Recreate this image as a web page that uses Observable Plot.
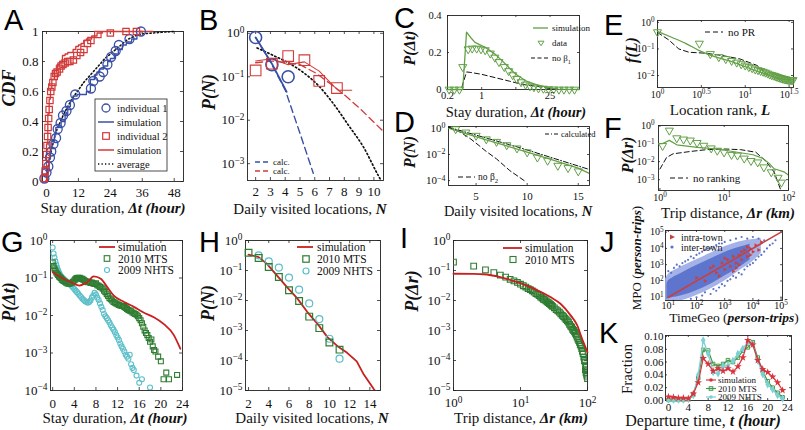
<!DOCTYPE html>
<html><head><meta charset="utf-8">
<script src="https://cdn.jsdelivr.net/npm/d3@7"></script>
<script src="https://cdn.jsdelivr.net/npm/@observablehq/plot@0.6"></script>
<style>
html,body{margin:0;padding:0;background:#fff;}
#fig{position:relative;width:805px;height:430px;overflow:hidden;background:#fff;}
.t{position:absolute;white-space:nowrap;font-family:"Liberation Serif","Times New Roman",serif;line-height:1;color:#111;}
.c{transform:translate(-50%,-50%);}
.r{transform:translate(-50%,-50%) rotate(-90deg);}
.bi{font-weight:bold;font-style:italic;}
.L{position:absolute;font-family:"Liberation Sans",Arial,sans-serif;font-size:29px;line-height:1;color:#000;}
</style></head><body><div id="fig"></div>
<script>
// ---------------- DATA ----------------
// A: CDF of stay durations
const aInd1 = [[-0.8,0.02],[0,0.06],[0.7,0.1],[1.3,0.16],[1.8,0.2],[2.6,0.25],[3.6,0.29],[4.2,0.35],[5.3,0.39],[6.2,0.44],[7.5,0.47],[8.8,0.51],[10.8,0.58],[16.7,0.62],[17.6,0.67],[20,0.7],[21.3,0.73],[22.9,0.78],[24.3,0.83],[26,0.87],[27.2,0.91],[31.2,0.95],[35.5,1]];
const aSim1 = [[-0.5,0],[0.5,0.08],[1,0.15],[1.5,0.22],[2,0.27],[3,0.31],[3.5,0.36],[4.5,0.37],[5.5,0.4],[7,0.45],[8,0.5],[9,0.54],[10,0.57],[11.5,0.58],[15,0.6],[16.5,0.68],[18,0.71],[19,0.73],[20,0.75],[21.5,0.77],[23,0.8],[24,0.82],[25.5,0.85],[27,0.88],[28.5,0.91],[30,0.93],[32,0.95],[34,0.98],[35,1],[36,1]];
const aInd2 = [[-0.8,0.02],[-0.5,0.07],[-0.2,0.12],[0,0.18],[0.2,0.24],[0.4,0.3],[0.6,0.36],[0.8,0.42],[1,0.48],[1.3,0.54],[1.6,0.6],[2,0.63],[2.4,0.66],[2.9,0.7],[3.4,0.72],[4,0.73],[4.9,0.75],[5.5,0.77],[6.2,0.78],[7,0.79],[8,0.8],[8.8,0.8],[10.1,0.81],[11.4,0.84],[12.8,0.86],[14.1,0.88],[15.4,0.92],[16.7,0.94],[19.3,0.98],[24,0.99],[29.9,1],[33.8,1]];
const aSim2 = [[-0.5,0],[0,0.25],[0.5,0.45],[1,0.55],[1.5,0.62],[2,0.68],[3,0.74],[4,0.78],[5,0.8],[6,0.84],[7,0.85],[8,0.86],[10,0.88],[11,0.9],[12,0.91],[13,0.92],[14,0.94],[15,0.95],[17,0.97],[19,0.99],[21,1],[40,1]];
const aAvg = [[0,0],[0.5,0.08],[1,0.14],[2,0.22],[3,0.29],[4,0.35],[5,0.39],[6,0.43],[8,0.5],[10,0.56],[12,0.61],[14,0.66],[16,0.7],[18,0.74],[20,0.78],[22,0.82],[24,0.85],[26,0.88],[28,0.91],[30,0.94],[32,0.96],[35,0.98],[40,0.99],[48,1]];
const aXTicks = [0,12,24,36,48], aYTicks = [0,0.2,0.4,0.6,0.8,1];

// B: daily visited locations, two individuals
const bInd1 = [[2,0.8],[3.1,0.19],[4.2,0.1]];
const bSim1 = [[2,0.8],[3.1,0.2],[4.1,0.045]];
const bCalc1 = [[2,0.8],[3,0.22],[4,0.05],[5,0.005],[5.9,0.0006]];
const bInd2 = [[2,0.14],[3.1,0.2],[4.2,0.3],[5.3,0.24],[6.3,0.08],[7.5,0.055]];
const bSim2 = [[2,0.23],[3.1,0.26],[4.2,0.19],[5.3,0.22],[6.3,0.135],[7.3,0.06],[7.6,0.049],[8.5,0.049]];
const bCalc2 = [[2,0.21],[3.1,0.23],[4.1,0.21],[5,0.19],[6.1,0.12],[7.1,0.067],[8.1,0.036],[9.1,0.018],[10,0.009],[10.6,0.0057]];
const bAvg = [[2.1,0.46],[3.1,0.32],[4.2,0.21],[5.3,0.12],[6.3,0.06],[7.3,0.023],[8.3,0.0075],[9.3,0.0024],[10.3,0.00053],[10.6,0.00035]];
const bXTicks = [2,3,4,5,6,7,8,9,10], bYTicks = [1,0.1,0.01,0.001];

// C: stay duration distribution (inset)
const cSim = [[0.2,0],[0.41,0],[0.49,0.31],[0.6,0.28],[0.73,0.255],[1.2,0.227],[1.9,0.19],[3.1,0.136],[5,0.082],[8.2,0.045],[13,0.027],[21,0.013],[35,0.002],[100,0]];
const cData = [[0.216,0],[0.276,0],[0.35,0],[0.41,0.122],[0.53,0.218],[0.64,0.222],[0.79,0.222],[0.97,0.218],[1.18,0.213],[1.5,0.195],[1.86,0.173],[2.26,0.149],[2.9,0.122],[3.56,0.1],[4.3,0.078],[5.2,0.058],[6.4,0.04],[7.9,0.027],[9.7,0.018],[11.7,0.013],[14.5,0.007],[18.3,0.005],[23.3,0.002],[29.6,0.001],[38,0],[48,0],[62,0],[79,0]];
const cNoBeta = [[0.2,0],[0.38,0],[0.49,0.095],[0.6,0.092],[1,0.082],[1.9,0.064],[3.7,0.045],[7,0.027],[13,0.018],[25,0.005],[50,0],[100,0]];
const cXTicks = [0.2,1,5,25], cYTicks = [0,0.2,0.4];

// D: daily visited locations (population)
const dData = [[3,0.89],[4,0.5],[5,0.28],[6,0.15],[7,0.096],[8,0.053],[9,0.03],[10,0.015],[11,0.006],[12,0.0034],[13,0.0014],[14,0.00093],[15,0.00052]];
const dCalc = [[2.3,1.25],[9.2,0.035],[16.1,0.0007]];
const dSim = [[2.3,1.05],[4,0.4],[6,0.13],[8,0.045],[10,0.015],[12,0.005],[14,0.0016],[15,0.0009],[16.1,0.00035]];
const dNoBeta = [[2.3,1.2],[3.5,0.5],[4.5,0.15],[5.3,0.048],[6,0.017],[7,0.0046],[8.3,0.00058],[9.7,0.0001]];
const dXTicks = [5,10,15], dYTicks = [1,0.01,0.0001];

// E: location rank
const eSim = [[1,0.46],[1.47,0.27],[2.09,0.163],[2.99,0.087],[4.66,0.049],[7.28,0.032],[11.4,0.018],[17.7,0.011],[25.3,0.0075],[34.4,0.0069]];
const eNoPR = [[1,0.42],[1.34,0.22],[1.75,0.1],[2.29,0.075],[3.57,0.069],[5.57,0.056],[8.7,0.042],[13.6,0.024],[16.2,0.015]];
const eData = [[1,0.43],[3,0.16],[4,0.065],[5,0.05],[6,0.042],[7,0.036],[8,0.031],[9,0.027],[10,0.024],[11,0.021],[12,0.019],[13,0.017],[14,0.016],[15,0.015],[16,0.014],[17,0.013],[18,0.012],[19,0.011],[20,0.0105],[21,0.01],[22,0.0095],[23,0.009],[24,0.0086],[25,0.0082],[26,0.0079],[27,0.0076],[28,0.0074],[29,0.0072],[30,0.007],[31,0.0069],[32,0.0068],[33,0.0068],[34,0.0068],[35,0.0068]];
const eXTicks = [1,3.1623,10,31.623], eYTicks = [1,0.1,0.01];

// F: trip distance (inset)
const fData = [[1.1,0.075],[1.4,0.53],[1.83,0.2],[2.33,0.17],[2.97,0.15],[3.78,0.11],[4.81,0.077],[6.27,0.055],[7.8,0.041],[9.95,0.033],[13,0.024],[16.1,0.022],[20.5,0.015],[26.1,0.011],[33.2,0.0092],[41.4,0.0049],[54,0.0026],[68.8,0.0013],[77.6,0.0007]];
const fSim = [[0.96,0.1],[1.1,0.1],[1.4,0.15],[1.83,0.085],[3.8,0.062],[7.8,0.05],[16,0.033],[28,0.024],[40,0.015],[50,0.008],[60,0.004],[87,0.0026],[100,0.0018]];
const fNoRank = [[1,0.0039],[1.27,0.017],[1.6,0.027],[2.9,0.036],[5.3,0.046],[10,0.05],[18,0.046],[31,0.033],[44,0.011],[60,0.0026],[78,0.0002]];
const fXTicks = [1,10,100], fYTicks = [1,0.1,0.01,0.001];

// G: stay duration, surveys
const gSim = [[0,0.144],[1.5,0.105],[3.3,0.078],[4.9,0.063],[6.4,0.078],[7.6,0.11],[8.9,0.095],[10.1,0.057],[11.3,0.034],[13.2,0.023],[15,0.017],[16.8,0.012],[18.7,0.009],[20.5,0.006],[22.4,0.003],[23.6,0.0013]];
const gMts = [[0,0.26],[0.17,0.21],[0.33,0.18],[0.5,0.16],[0.67,0.14],[0.83,0.13],[1,0.12],[1.17,0.11],[1.33,0.105],[1.5,0.1],[1.67,0.092],[1.83,0.088],[2,0.083],[2.25,0.079],[2.5,0.075],[2.75,0.072],[3,0.07],[3.25,0.071],[3.5,0.074],[3.75,0.079],[4,0.086],[4.17,0.092],[4.33,0.097],[4.5,0.1],[4.67,0.102],[4.83,0.098],[5,0.101],[5.17,0.097],[5.33,0.094],[5.5,0.096],[5.67,0.09],[5.83,0.087],[6,0.083],[6.25,0.08],[6.5,0.077],[6.75,0.079],[7,0.074],[7.25,0.076],[7.5,0.071],[7.75,0.069],[8,0.072],[8.25,0.064],[8.5,0.062],[8.75,0.058],[9,0.056],[9.25,0.052],[9.5,0.046],[9.75,0.042],[10,0.037],[10.25,0.033],[10.5,0.029],[10.75,0.027],[11,0.025],[11.25,0.023],[11.5,0.022],[11.75,0.021],[12,0.02],[12.25,0.019],[12.5,0.0185],[12.75,0.018],[13,0.018],[13.25,0.017],[13.5,0.016],[13.75,0.015],[14,0.014],[14.25,0.0135],[14.5,0.013],[14.75,0.012],[15,0.0115],[15.25,0.011],[15.5,0.0105],[15.75,0.0095],[16,0.0085],[16.25,0.0075],[16.5,0.0062],[16.75,0.005],[17,0.004],[17.25,0.0034],[17.5,0.003],[17.75,0.0025],[18,0.002],[18.25,0.0023],[18.5,0.0015],[18.75,0.0012],[19,0.0011],[19.5,0.0008],[20,0.0006],[20.5,0.0002],[21,0.0003],[21.5,0.0002],[23,0.00026]];
const gNhts = [[0,0.65],[0.17,0.45],[0.33,0.35],[0.5,0.28],[0.67,0.23],[0.83,0.19],[1,0.16],[1.17,0.14],[1.33,0.125],[1.5,0.115],[1.67,0.105],[1.83,0.1],[2,0.095],[2.25,0.088],[2.5,0.082],[2.75,0.077],[3,0.072],[3.25,0.066],[3.5,0.061],[3.75,0.056],[4,0.051],[4.25,0.046],[4.5,0.042],[4.75,0.038],[5,0.034],[5.25,0.031],[5.5,0.028],[5.75,0.026],[6,0.024],[6.25,0.023],[6.5,0.022],[6.75,0.023],[7,0.025],[7.25,0.03],[7.5,0.034],[7.75,0.04],[8,0.036],[8.25,0.03],[8.5,0.026],[8.75,0.021],[9,0.017],[9.25,0.014],[9.5,0.011],[9.75,0.0095],[10,0.0085],[10.25,0.0075],[10.5,0.0065],[10.75,0.0055],[11,0.0048],[11.25,0.0042],[11.5,0.0036],[11.75,0.003],[12,0.0026],[12.25,0.0022],[12.5,0.0018],[12.75,0.0015],[13,0.0013],[13.25,0.0011],[13.5,0.0009],[13.75,0.0008],[14,0.0007],[14.25,0.0009],[14.5,0.0005],[14.75,0.0004],[15,0.00035],[15.5,0.00025],[16,0.00016],[16.5,0.0002],[18,0.00012]];
const gXTicks = [0,4,8,12,16,20,24], gYTicks = [1,0.1,0.01,0.001,0.0001];

// H: daily visited locations, surveys
const hSim = [[2,0.34],[3,0.28],[3.8,0.17],[4.8,0.069],[5.8,0.028],[6.8,0.012],[7.8,0.0042],[8.8,0.0017],[9.8,0.0006],[10.8,0.0003],[11.75,0.00018],[12.7,0.000093],[13.4,0.000034],[14.4,0.000011],[14.7,0.000008]];
const hMts = [[2,0.39],[3,0.26],[4,0.13],[5,0.061],[6,0.022],[7,0.0096],[8,0.0029],[9,0.0012],[10,0.0004],[11,0.00023]];
const hNhts = [[3,0.32],[4,0.2],[5,0.125],[6,0.058],[7,0.023],[8,0.008],[9,0.0024],[10,0.00053],[11,0.000115]];
const hXTicks = [2,4,6,8,10,12,14], hYTicks = [1,0.1,0.01,0.001,0.0001,0.00001];

// I: trip distance, surveys
const iSim = [[1,0.078],[2,0.077],[2.8,0.075],[5,0.06],[8.9,0.041],[15.8,0.025],[28,0.013],[39.5,0.0078],[56,0.0032],[70,0.0015],[83,0.00053],[100,0.00019]];
const iMts = [[1,0.19],[2,0.14],[3,0.105],[4,0.085],[5,0.07],[6,0.06],[7,0.051],[8,0.045],[9,0.04],[10,0.035],[11,0.031],[12,0.028],[13,0.025],[14,0.023],[15,0.021],[16,0.019],[17,0.017],[18,0.016],[19,0.0145],[20,0.013],[21,0.012],[22,0.011],[23,0.0105],[24,0.0097],[25,0.009],[26,0.0085],[27,0.0079],[28,0.0074],[29,0.0069],[30,0.0064],[32,0.0057],[34,0.005],[36,0.0045],[38,0.0041],[40,0.0036],[42,0.0032],[44,0.0029],[46,0.0026],[48,0.0023],[50,0.0021],[52,0.0019],[54,0.0016],[56,0.0014],[58,0.0013],[60,0.0011],[62,0.001],[64,0.0009],[66,0.0008],[68,0.0007],[70,0.0006],[72,0.00052],[74,0.00046],[76,0.0004],[78,0.00034],[80,0.0003],[82,0.00025],[84,0.0002],[86,0.00017],[88,0.00013],[90,0.0001],[92,0.00009],[93,0.00005],[94,0.00007],[95,0.00004],[96,0.00006],[97,0.000035],[98,0.00003],[99,0.000045],[100,0.000025]];
const iXTicks = [1,10,100], iYTicks = [1,0.1,0.01,0.001,0.0001,0.00001];

// J: MPO vs TimeGeo flows (log10 values)
const jOuterX = [0.9,1.0,1.5,2.0,2.5,3.0,3.5,4.0,4.3];
const jOuterLo = [0.8,0.8,0.8,1.1,1.5,2.0,2.6,3.2,3.7];
const jOuterHi = [2.1,2.4,2.9,3.3,3.7,4.1,4.4,4.55,4.6];
const jInnerX = [0.95,1.0,1.5,2.0,2.5,3.0,3.5,3.9];
const jInnerLo = [0.85,0.9,1.1,1.4,1.8,2.3,2.8,3.3];
const jInnerHi = [1.8,2.0,2.5,2.95,3.35,3.75,4.05,4.25];
const jInter = [[1.0,2.6],[1.1,2.5],[1.2,2.8],[1.3,3.0],[1.4,2.9],[1.5,3.1],[1.6,3.2],[1.7,3.3],[1.8,3.5],[1.9,3.4],[2.0,3.6],[2.1,3.7],[2.2,3.8],[2.3,3.9],[2.4,4.0],[2.5,4.0],[2.6,4.1],[2.7,4.2],[2.8,4.3],[2.9,4.3],[3.0,4.4],[3.2,4.5],[3.4,4.6],[3.6,4.7],[3.8,4.6],[4.0,4.7],[4.2,4.6],[4.4,4.5],[1.8,0.9],[2.0,1.0],[2.2,1.1],[2.3,1.3],[2.5,1.2],[2.6,1.5],[2.7,1.4],[2.8,1.6],[2.9,1.8],[3.0,1.7],[3.1,2.0],[3.2,2.1],[3.3,2.3],[3.4,2.2],[3.5,2.5],[3.6,2.4],[3.7,2.7],[3.8,2.9],[3.9,3.0],[4.0,3.1],[4.1,3.3],[4.2,3.5],[4.3,3.6],[4.4,3.8],[4.5,4.0],[4.6,4.2],[4.7,4.3],[4.8,4.5]];
const jIntra = [[2.0,2.2],[2.3,2.0],[2.5,2.8],[2.7,2.5],[2.9,3.1],[3.0,2.7],[3.1,3.3],[3.2,2.9],[3.3,3.5],[3.4,3.1],[3.5,3.6],[3.6,3.3],[3.7,3.9],[3.8,3.5],[3.9,4.0],[4.0,3.8],[4.1,4.2],[4.2,3.9],[4.3,4.4],[3.3,2.6],[3.5,3.0],[3.6,3.8],[2.8,2.3],[3.0,3.4],[3.8,4.1],[3.4,2.8],[2.6,2.9],[3.9,3.6]];
const jDiag = [[1,1],[5,5]];
const jTicks = [10,100,1000,10000,100000];

// K: departure time
const kHours = [0,1,2,3,4,5,6,7,8,9,10,11,12,13,14,15,16,17,18,19,20,21,22,23];
const kSim = [0.006,0.005,0.004,0.004,0.003,0.0105,0.028,0.066,0.057,0.046,0.05,0.046,0.05,0.045,0.053,0.067,0.094,0.087,0.063,0.049,0.044,0.037,0.028,0.016];
const kMts = [0.001,0.001,0.001,0.001,0.002,0.01,0.035,0.079,0.078,0.057,0.054,0.057,0.063,0.06,0.067,0.078,0.083,0.091,0.067,0.046,0.03,0.02,0.012,0.005];
const kNhts = [0.001,0.001,0.001,0.001,0.002,0.008,0.04,0.094,0.073,0.044,0.042,0.054,0.054,0.062,0.073,0.081,0.091,0.088,0.062,0.041,0.025,0.017,0.008,0.003];
const kXTicks = [0,4,8,12,16,20,24], kYTicks = [0,0.02,0.04,0.06,0.08,0.1];

// ---------------- STYLE ----------------
const BLUE="#3a4fa6", RED="#d23a3a", GRN="#62a046", DRED="#c8201f", MTS="#2e7d32", NHTS="#5cbfc9", JBL="#5b72cc", JRED="#c84040", KRED="#d9343c", KGRN="#46994a", KCYN="#7dd0d6";
const SERIF='"Liberation Serif","Times New Roman",serif';
const NS="http://www.w3.org/2000/svg";
const X=d=>d[0], Y=d=>d[1];
const pw=d=>"10^"+String(+Math.log10(d).toFixed(1)).replace("-","−");
const fig=document.getElementById("fig");

function supers(svg){
  svg.querySelectorAll("text").forEach(t=>{
    const m=/^10\^(.+)$/.exec(t.textContent); if(!m) return;
    t.textContent="10";
    const s=document.createElementNS(NS,"tspan");
    s.setAttribute("dy","-0.45em"); s.setAttribute("font-size","0.72em"); s.textContent=m[1];
    t.appendChild(s);
  });
}
function place(fr,m,fs,opts){
  const [L,T,R,B]=fr;
  const svg=Plot.plot(Object.assign({
    width:(R-L)+m[0]+m[1], height:(B-T)+m[2]+m[3],
    marginLeft:m[0], marginRight:m[1], marginTop:m[2], marginBottom:m[3],
    style:{fontFamily:SERIF,fontSize:fs+"px",background:"transparent",overflow:"visible",color:"#111"}
  },opts));
  svg.style.position="absolute"; svg.style.left=(L-m[0])+"px"; svg.style.top=(T-m[2])+"px";
  supers(svg); fig.appendChild(svg); return svg;
}
function box(xt,yt,fr,len){
  const w=fr[2]-fr[0], h=fr[3]-fr[1], s={stroke:"#222",strokeWidth:0.8};
  return [
    Plot.tickX(xt,{x:d=>d,insetTop:h-len,...s}),
    Plot.tickX(xt,{x:d=>d,insetBottom:h-len,...s}),
    Plot.tickY(yt,{y:d=>d,insetRight:w-len,...s}),
    Plot.tickY(yt,{y:d=>d,insetLeft:w-len,...s}),
    Plot.frame({stroke:"#222",strokeWidth:0.9})
  ];
}
function axes(xt,yt,xf,yf,px,py){
  return [
    Plot.axisX({ticks:xt,tickFormat:xf,tickSize:0,tickPadding:px,label:null}),
    Plot.axisY({ticks:yt,tickFormat:yf,tickSize:0,tickPadding:py,label:null})
  ];
}
function title(html,cx,cy,fs,rot){
  const d=document.createElement("div");
  d.className="t "+(rot?"r":"c"); d.style.left=cx+"px"; d.style.top=cy+"px"; d.style.fontSize=fs+"px";
  d.innerHTML=html; fig.appendChild(d);
}
function letter(s,x,y){const d=document.createElement("div");d.className="L";d.style.left=x+"px";d.style.top=y+"px";d.textContent=s;fig.appendChild(d);}

// ---------------- PANELS ----------------
// A
const frA=[42,31,183,181];
place(frA,[32,6,6,22],13,{x:{domain:[-1.5,51.5]},y:{domain:[0,1]},marks:[
  ...box(aXTicks,aYTicks,frA,3),
  ...axes(aXTicks,aYTicks,d=>String(d),d=>d===0?"0":d===1?"1":d.toFixed(1),6,4),
  Plot.line(aAvg,{x:X,y:Y,stroke:"#111",strokeWidth:1.6,strokeDasharray:"1.3,2.4",curve:"monotone-x"}),
  Plot.line(aSim1,{x:X,y:Y,curve:"step-after",stroke:BLUE,strokeWidth:1.3}),
  Plot.line(aSim2,{x:X,y:Y,curve:"step-after",stroke:RED,strokeWidth:1.3}),
  Plot.dot(aInd1,{x:X,y:Y,r:4.5,stroke:BLUE,strokeWidth:1.3}),
  Plot.dot(aInd2,{x:X,y:Y,symbol:"square",r:3.6,stroke:RED,strokeWidth:1.2})
]});
// B
const frB=[247,31,383,180];
place(frB,[36,4,8,22],13,{x:{domain:[1.45,10.65]},y:{type:"log",domain:[4.1e-4,1.1]},marks:[
  ...box(bXTicks,bYTicks,frB,3),
  ...axes(bXTicks,bYTicks,d=>String(d),pw,6,3),
  Plot.line(bAvg,{x:X,y:Y,stroke:"#111",strokeWidth:1.7,strokeDasharray:"1.3,2.6",curve:"monotone-x",clip:true}),
  Plot.line(bCalc2,{x:X,y:Y,stroke:RED,strokeWidth:1.3,strokeDasharray:"7,4",clip:true}),
  Plot.line(bSim2,{x:X,y:Y,stroke:RED,strokeWidth:1.1,clip:true}),
  Plot.line(bCalc1,{x:X,y:Y,stroke:BLUE,strokeWidth:1.4,strokeDasharray:"7,4",clip:true}),
  Plot.line(bSim1,{x:X,y:Y,stroke:BLUE,strokeWidth:1.8,clip:true}),
  Plot.dot(bInd1,{x:X,y:Y,r:6,stroke:BLUE,strokeWidth:1.6}),
  Plot.dot(bInd2,{x:X,y:Y,symbol:"square",r:6,stroke:RED,strokeWidth:1.1})
]});
// C
const frC=[447,15,579,89];
place(frC,[30,4,4,14],10.5,{x:{type:"log",domain:[0.2,100]},y:{domain:[0,0.4]},marks:[
  ...box(cXTicks,cYTicks,frC,2),
  ...axes(cXTicks,cYTicks,d=>String(d),d=>d===0?"0":String(d),2,6),
  Plot.line(cNoBeta,{x:X,y:Y,stroke:"#111",strokeWidth:1,strokeDasharray:"5,3"}),
  Plot.line(cSim,{x:X,y:Y,stroke:GRN,strokeWidth:1.3}),
  Plot.dot(cData,{x:X,y:Y,symbol:"triangle",rotate:180,r:3,stroke:GRN,strokeWidth:1})
]});
// D
const frD=[448,126,589,185];
place(frD,[30,4,4,22],11,{x:{domain:[2.3,16.1]},y:{type:"log",domain:[Math.pow(10,-4.38),Math.pow(10,0.15)]},marks:[
  ...box(dXTicks,dYTicks,frD,2),
  ...axes(dXTicks,dYTicks,d=>String(d),pw,7,3),
  Plot.line(dNoBeta,{x:X,y:Y,stroke:"#111",strokeWidth:1,strokeDasharray:"5,3",clip:true}),
  Plot.line(dSim,{x:X,y:Y,stroke:GRN,strokeWidth:1.3,clip:true}),
  Plot.line(dCalc,{x:X,y:Y,stroke:"#111",strokeWidth:1,strokeDasharray:"5,2,1,2",clip:true}),
  Plot.dot(dData,{x:X,y:Y,symbol:"triangle",rotate:180,r:3,stroke:GRN,strokeWidth:1})
]});
// E
const frE=[657,20,793,87];
place(frE,[34,4,4,16],10,{x:{type:"log",domain:[1,Math.pow(10,1.55)]},y:{type:"log",domain:[Math.pow(10,-2.45),Math.pow(10,0.07)]},marks:[
  ...box(eXTicks,eYTicks,frE,2),
  ...axes(eXTicks,eYTicks,pw,pw,3,3),
  Plot.line(eNoPR,{x:X,y:Y,stroke:"#111",strokeWidth:1,strokeDasharray:"5,3"}),
  Plot.line(eSim,{x:X,y:Y,stroke:GRN,strokeWidth:1.3,curve:"monotone-x"}),
  Plot.dot(eData,{x:X,y:Y,symbol:"triangle",rotate:180,r:3,stroke:GRN,strokeWidth:1})
]});
// F
const frF=[658,125,788,190];
place(frF,[34,4,4,16],10,{x:{type:"log",domain:[0.95,100]},y:{type:"log",domain:[Math.pow(10,-3.6),1]},marks:[
  ...box(fXTicks,fYTicks,frF,2),
  ...axes(fXTicks,fYTicks,pw,pw,3,4),
  Plot.line(fNoRank,{x:X,y:Y,stroke:"#111",strokeWidth:1,strokeDasharray:"5,3",clip:true}),
  Plot.line(fSim,{x:X,y:Y,stroke:GRN,strokeWidth:1.2,clip:true}),
  Plot.dot(fData,{x:X,y:Y,symbol:"triangle",rotate:180,r:3,stroke:GRN,strokeWidth:1,clip:true})
]});
// G
const frG=[50,240,182,390];
place(frG,[38,4,6,22],13,{x:{domain:[-0.4,24]},y:{type:"log",domain:[1e-4,1]},marks:[
  ...box(gXTicks,gYTicks,frG,3),
  ...axes(gXTicks,gYTicks,d=>String(d),pw,8,3),
  Plot.dot(gNhts,{x:X,y:Y,r:2.5,stroke:NHTS,strokeWidth:1.1,clip:true}),
  Plot.dot(gMts,{x:X,y:Y,symbol:"square",r:2.8,stroke:MTS,strokeWidth:1.1,clip:true}),
  Plot.line(gSim,{x:X,y:Y,stroke:DRED,strokeWidth:1.8,curve:"monotone-x"})
]});
// H
const frH=[245,240,380,390];
place(frH,[38,4,6,22],13,{x:{domain:[1.7,15.05]},y:{type:"log",domain:[1e-5,1]},marks:[
  ...box(hXTicks,hYTicks,frH,3),
  ...axes(hXTicks,hYTicks,d=>String(d),pw,8,3),
  Plot.line(hSim,{x:X,y:Y,stroke:DRED,strokeWidth:1.8,clip:true}),
  Plot.dot(hNhts,{x:X,y:Y,r:3.5,stroke:NHTS,strokeWidth:1.2}),
  Plot.dot(hMts,{x:X,y:Y,symbol:"square",r:3.8,stroke:MTS,strokeWidth:1.2})
]});
// I
const frI=[453,240,587,390];
place(frI,[38,6,6,24],13,{x:{type:"log",domain:[1,100]},y:{type:"log",domain:[1e-5,1]},marks:[
  ...box(iXTicks,iYTicks,frI,3),
  ...axes(iXTicks,iYTicks,pw,pw,7,3),
  Plot.dot(iMts,{x:X,y:Y,symbol:"square",r:3.2,stroke:MTS,strokeWidth:1.1,clip:true}),
  Plot.line(iSim,{x:X,y:Y,stroke:DRED,strokeWidth:1.8,curve:"monotone-x"})
]});
// J
const frJ=[665,230,782,300];
place(frJ,[26,6,4,14],10,{x:{type:"log",domain:[Math.pow(10,0.9),Math.pow(10,5.05)]},y:{type:"log",domain:[Math.pow(10,0.8),Math.pow(10,5.1)]},marks:[
  ...box(jTicks,jTicks,frJ,2),
  ...axes(jTicks,jTicks,pw,pw,1,2),
  Plot.areaY(jOuterX,{x:d=>10**d,y1:(d,i)=>10**jOuterLo[i],y2:(d,i)=>10**jOuterHi[i],fill:"#9aaae6",fillOpacity:0.9,curve:"catmull-rom",clip:true}),
  Plot.areaY(jInnerX,{x:d=>10**d,y1:(d,i)=>10**jInnerLo[i],y2:(d,i)=>10**jInnerHi[i],fill:JBL,fillOpacity:0.95,curve:"catmull-rom",clip:true}),
  Plot.dot(jInter,{x:d=>10**d[0],y:d=>10**d[1],r:1.1,fill:JBL,clip:true}),
  Plot.dot(jIntra,{x:d=>10**d[0],y:d=>10**d[1],symbol:"triangle",rotate:90,r:1.5,fill:JRED,clip:true}),
  Plot.line(jDiag,{x:d=>10**d[0],y:d=>10**d[1],stroke:JRED,strokeWidth:1.6,clip:true})
]});
// K
const frK=[665,335,791,400];
place(frK,[34,4,4,18],11,{x:{domain:[-0.6,24.8]},y:{domain:[0,0.1015]},marks:[
  ...box(kXTicks,kYTicks,frK,2),
  ...axes(kXTicks,kYTicks,d=>String(d),d3.format(".2f"),3,2),
  Plot.line(kHours,{x:d=>d,y:(d,i)=>kMts[i],stroke:KGRN,strokeWidth:1.2}),
  Plot.dot(kHours,{x:d=>d,y:(d,i)=>kMts[i],symbol:"square",r:2,stroke:KGRN,strokeWidth:1}),
  Plot.line(kHours,{x:d=>d,y:(d,i)=>kNhts[i],stroke:KCYN,strokeWidth:1.3}),
  Plot.dot(kHours,{x:d=>d,y:(d,i)=>kNhts[i],symbol:"diamond",r:2.4,fill:KCYN}),
  Plot.line(kHours,{x:d=>d,y:(d,i)=>kSim[i],stroke:KRED,strokeWidth:1.2}),
  Plot.dot(kHours,{x:d=>d,y:(d,i)=>kSim[i],symbol:"star",r:2.4,fill:KRED})
]});

// ---------------- TITLES ----------------
title('Stay duration, <span class="bi">Δt (hour)</span>',113,208,15);
title('<span class="bi">CDF</span>',9,88,18,true);
title('Daily visited locations, <span class="bi">N</span>',310,208.5,15);
title('<span class="bi">P(N)</span>',209,92,18,true);
title('<span class="bi">P(Δt)</span>',410,48,16,true);
title('Stay duration, <span class="bi">Δt (hour)</span>',516,111.5,14.5);
title('<span class="bi">P(N)</span>',410,152,16,true);
title('Daily visited locations, <span class="bi">N</span>',518,211,14.5);
title('<span class="bi">f(L)</span>',632,50,16,true);
title('Location rank, <span class="bi">L</span>',720,110,15);
title('<span class="bi">P(Δr)</span>',628,155,16,true);
title('Trip distance, <span class="bi">Δr (km)</span>',728,213,15);
title('<span class="bi">P(Δt)</span>',9,302,18,true);
title('Stay duration, <span class="bi">Δt (hour)</span>',115,418,15);
title('<span class="bi">P(N)</span>',208,303,18,true);
title('Daily visited locations, <span class="bi">N</span>',312,418,15);
title('<span class="bi">P(Δr)</span>',412,291,18,true);
title('Trip distance, <span class="bi">Δr (km)</span>',521,418,15);
title('MPO (<span class="bi">person-trips</span>)',636,258,13,true);
title('TimeGeo (<span class="bi">person-trips</span>)',734,318,13.5);
title('Fraction',627,369,15,true);
title('Departure time, <span class="bi">t (hour)</span>',703,421,16);

letter("A",4,6); letter("B",199,6); letter("C",394,4); letter("D",394,108);
letter("E",604,11); letter("F",604,114); letter("G",1,228); letter("H",199,228);
letter("I",400,224); letter("J",600,228); letter("K",599,319);

// ---------------- LEGENDS ----------------
const ov=document.createElementNS(NS,"svg");
ov.setAttribute("width","805"); ov.setAttribute("height","430");
ov.style.cssText="position:absolute;left:0;top:0;overflow:visible";
fig.appendChild(ov);
function E(tag,a,p){const e=document.createElementNS(NS,tag);for(const k in a) if(a[k]!=null) e.setAttribute(k,a[k]);(p||ov).appendChild(e);return e;}
function LT(x,y,s,fs,sub){const t=E("text",{x,y,"font-size":fs,"font-family":SERIF,"dominant-baseline":"central",fill:"#111"});t.textContent=s;if(sub){const u=E("tspan",{"baseline-shift":"sub","font-size":fs*0.7},t);u.textContent=sub;}return t;}
function LL(x1,x2,y,c,w,dash){E("line",{x1,x2,y1:y,y2:y,stroke:c,"stroke-width":w,"stroke-dasharray":dash});}
function SQ(x,y,r,c,w){E("rect",{x:x-r,y:y-r,width:2*r,height:2*r,stroke:c,fill:"none","stroke-width":w});}
function CI(x,y,r,c,w){E("circle",{cx:x,cy:y,r,stroke:c,fill:"none","stroke-width":w});}
function TD(x,y,r,c){E("polygon",{points:`${x-r},${y-r*0.6} ${x+r},${y-r*0.6} ${x},${y+r*0.9}`,stroke:c,fill:"none","stroke-width":1});}

// A legend
E("rect",{x:95,y:99,width:72,height:72,fill:"#fff",stroke:"#222","stroke-width":0.8});
CI(106,108,4,BLUE,1.3); LT(117,108,"individual 1",10.5);
LL(98,114,122,BLUE,1.5); LT(117,122,"simulation",10.5);
SQ(106,136,3.3,RED,1.2); LT(117,136,"individual 2",10.5);
LL(98,114,150,RED,1.5); LT(117,150,"simulation",10.5);
LL(98,114,164,"#111",1.5,"1.3,2.2"); LT(117,164,"average",10.5);
// B legend
LL(255,270,162,BLUE,1.3,"5,3"); LT(273,162,"calc.",9);
LL(255,270,171,RED,1.3,"5,3"); LT(273,171,"calc.",9);
// C legend
LL(533,548,28,GRN,1.3); LT(552,28,"simulation",9);
TD(541,43,3,GRN); LT(552,43,"data",9);
LL(531,548,58,"#111",1,"4,2.5"); LT(552,58,"no β",9,"1");
// D legend
LL(545,559,134,"#111",1,"4,2,1,2"); LT(561,134,"calculated",8.5);
LL(458,475,177,"#111",1,"5,3"); LT(478,177,"no β",9.5,"2");
// E legend
LL(705,723,32,"#111",1,"5,3"); LT(728,32,"no PR",11);
// F legend
LL(670,688,178,"#111",1,"5,3"); LT(693,178,"no ranking",11);
// G legend
LL(99,115,247,DRED,1.8); LT(118,247,"simulation",11.5);
SQ(107,258.5,2.8,MTS,1.1); LT(118,258.5,"2010 MTS",11.5);
CI(107,270,2.5,NHTS,1.1); LT(118,270,"2009 NHTS",11.5);
// H legend
LL(297,313,247,DRED,1.8); LT(317,247,"simulation",11.5);
SQ(306,259,3.2,MTS,1.2); LT(317,259,"2010 MTS",11.5);
CI(306,271,3,NHTS,1.2); LT(317,271,"2009 NHTS",11.5);
// I legend
LL(503,522,248,DRED,1.8); LT(525,248,"simulation",11.5);
SQ(513,259.5,3,MTS,1.1); LT(525,259.5,"2010 MTS",11.5);
// J legend
E("polygon",{points:"670,234.5 675,237 670,239.5",fill:JRED});
LT(681,237,"intra-town",10);
E("circle",{cx:672,cy:247,r:1.6,fill:JBL});
LT(681,247,"inter-town",10);
// K legend
LL(706,716,380,KRED,1.2); E("circle",{cx:711,cy:380,r:1.8,fill:KRED}); LT(718,380,"simulation",9);
LL(706,716,388.5,KGRN,1.2); SQ(711,388.5,1.8,KGRN,1); LT(718,388.5,"2010 MTS",9);
LL(706,716,397,KCYN,1.2); E("circle",{cx:711,cy:397,r:1.8,fill:KCYN}); LT(718,397,"2009 NHTS",9);
</script></body></html>
